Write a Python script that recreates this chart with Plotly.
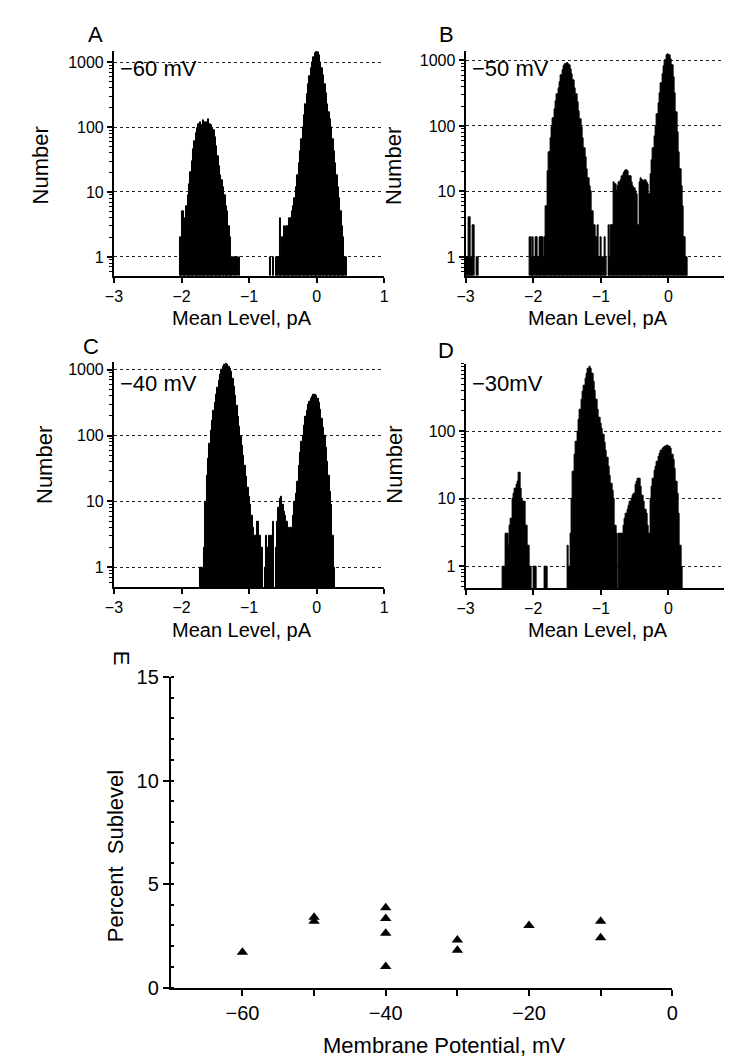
import plotly.graph_objects as go

# ---------------- data ----------------
BIN = 0.02  # histogram bin width, pA

# Panel A  (-60 mV)
A_left_start = -2.02
A_left_counts = [2, 1, 5, 3, 4, 6, 9, 13, 20, 30, 45, 60, 80, 95, 110, 118, 105, 125,
                 115, 120, 110, 130, 110, 105, 95, 90, 70, 50, 35, 25, 18, 15, 12, 9,
                 6, 5, 3, 2, 1, 1, 0, 1, 1, 0, 1]
A_right_start = -0.68
A_right_counts = [1, 0, 1, 0, 1, 1, 1, 4, 1, 2, 3, 2, 3, 3, 4, 4, 5, 6, 8, 12, 18, 28,
                  42, 65, 100, 150, 220, 320, 450, 600, 800, 1000, 1200, 1350, 1450,
                  1400, 1250, 1000, 800, 620, 450, 330, 220, 170, 130, 100, 65, 42, 28,
                  18, 12, 8, 5, 3, 2, 1, 1]

# Panel B  (-50 mV)
B_far_start = -2.98
B_far_counts = [1, 1, 4, 1, 1, 3, 0, 0, 1]
B_main_start = -2.04
B_main_counts = [2, 1, 2, 1, 2, 2, 1, 2, 2, 2, 1, 2,
                 6, 20, 40, 65, 95, 130, 180, 240, 300, 380, 470, 600, 720, 820, 880,
                 920, 900, 840, 740, 620, 500, 380, 300, 230, 170, 125, 95, 65, 45, 33,
                 22, 16, 12, 10, 5, 3, 3, 2, 3, 1, 2, 1, 1, 2, 1, 0, 3, 1, 3, 3,
                 14, 13, 10, 12, 14, 15, 17, 19, 20, 21, 20, 17, 17, 14, 12, 11, 10, 9,
                 3, 14, 16, 15, 14, 15, 14, 13, 9,
                 18, 30, 45, 70, 100, 150, 220, 320, 450, 620, 820, 1000, 1180, 1250,
                 1200, 1050, 850, 560, 320, 160, 80, 40, 22, 12, 6, 2, 1, 1]

# Panel C  (-40 mV)
C_start = -1.72
C_counts = [1, 1, 0, 2, 10, 25, 45, 75, 120, 170, 240, 320, 420, 540, 680, 830, 980,
            1100, 1200, 1250, 1200, 1120, 1050, 920, 740, 550, 400, 280, 190, 135, 95,
            70, 50, 35, 24, 16, 12, 9, 6, 4, 3, 3, 5, 5, 3, 2, 2, 0, 1, 3, 2, 3, 2,
            3, 5, 0, 2, 5, 8, 11, 12, 9, 7, 6, 5, 4, 3, 4, 3, 6, 10, 13, 20, 35, 55,
            80, 100, 140, 190, 240, 290, 330, 360, 390, 410, 420, 400, 360, 310, 250,
            180, 130, 100, 65, 40, 25, 14, 9, 3, 1]

# Panel D  (-30 mV)
D_left_start = -2.44
D_left_counts = [1, 1, 3, 3, 2, 4, 5, 10, 12, 14, 16, 18, 24, 14, 10, 9, 9, 4, 2, 2,
                 1, 0, 0, 1, 1]
D_spike_start = -1.82
D_spike_counts = [1, 1]
D_main_start = -1.48
D_main_counts = [2, 1, 3, 10, 25, 45, 70, 100, 150, 210, 290, 380, 480, 600, 720, 850,
                 900, 850, 720, 550, 400, 290, 210, 160, 130, 110, 90, 68, 52, 40, 30,
                 22, 17, 13, 10, 4, 3, 0, 3, 3, 3, 4, 5, 6, 7, 8, 9, 10, 11, 12, 16,
                 18, 20, 20, 15, 11, 9, 7, 6, 4, 3, 10, 15, 20, 26, 30, 36, 42, 47, 52,
                 55, 58, 60, 62, 62, 60, 55, 45, 38, 28, 18, 12, 6, 2, 1]

# Panel E
E_potential = [-60, -50, -50, -40, -40, -40, -40, -30, -30, -20, -10, -10]
E_percent = [1.7, 3.4, 3.2, 3.85, 3.33, 2.62, 1.02, 2.3, 1.8, 3.0, 3.2, 2.4]

hist_ticks = [-3, -2, -1, 0, 1]
log_ticks = [1, 10, 100, 1000]
E_xticks = [-60, -50, -40, -30, -20, -10, 0]
E_xlabels = ["\u221260", "", "\u221240", "", "\u221220", "", "0"]
E_yticks = [0, 5, 10, 15]

# ---------------- figure ----------------
W, H = 732, 1063
FONT = "Liberation Sans, Arial, Helvetica, sans-serif"


def px(x):
    return x / W


def py(y):
    return 1 - y / H


def to_xy(segments):
    xs, ys = [], []
    for start, counts in segments:
        for i, c in enumerate(counts):
            if c > 0:
                xs.append(round(start + i * BIN, 3))
                ys.append(c)
    return xs, ys


panels = [
    ("x", "y", [(A_left_start, A_left_counts), (A_right_start, A_right_counts)]),
    ("x2", "y2", [(B_far_start, B_far_counts), (B_main_start, B_main_counts)]),
    ("x3", "y3", [(C_start, C_counts)]),
    ("x4", "y4", [(D_left_start, D_left_counts), (D_spike_start, D_spike_counts),
                  (D_main_start, D_main_counts)]),
]

fig = go.Figure()
for xa, ya, segs in panels:
    xs, ys = to_xy(segs)
    fig.add_trace(go.Bar(x=xs, y=ys, width=BIN, xaxis=xa, yaxis=ya,
                         marker=dict(color="black", line=dict(color="black", width=1.0)),
                         showlegend=False, hoverinfo="x+y"))

fig.add_trace(go.Scatter(x=E_potential, y=E_percent, mode="markers", xaxis="x5", yaxis="y5",
                         marker=dict(symbol="triangle-up", size=10, color="black"),
                         showlegend=False))


def hist_x(domain, rng, ticks):
    return dict(domain=domain, range=rng, tickmode="array", tickvals=ticks,
                ticks="outside", ticklen=5, tickwidth=1.5, tickcolor="black",
                showline=True, linewidth=2, linecolor="black", showgrid=False,
                zeroline=False, tickfont=dict(size=16, color="black", family=FONT))


def hist_y(domain, rng, ticks, anchor):
    return dict(domain=domain, type="log", range=rng, tickmode="array", tickvals=ticks,
                ticktext=[str(t) for t in ticks], ticks="outside", ticklen=5,
                tickwidth=1.5, tickcolor="black", showline=True, linewidth=2,
                linecolor="black", showgrid=True, gridcolor="#222", griddash="dot",
                gridwidth=1, zeroline=False, anchor=anchor,
                minor=dict(dtick="D1", ticks="outside", ticklen=3, tickwidth=1,
                           tickcolor="black", showgrid=False),
                tickfont=dict(size=16, color="black", family=FONT))


left_dom = [px(99), px(375)]
right_dom = [px(458), 1.0]
top_dom = [py(262), py(33)]
mid_dom_c = [py(580), py(350)]
mid_dom_d = [py(581), py(352)]

layout = dict(
    width=W, height=H, margin=dict(l=0, r=0, t=0, b=0),
    paper_bgcolor="white", plot_bgcolor="white", showlegend=False,
    font=dict(family=FONT, color="black"),
    bargap=0,
    xaxis=dict(hist_x(left_dom, [-3, 1], hist_ticks), anchor="y"),
    yaxis=hist_y(top_dom, [-0.287, 3.166], log_ticks, "x"),
    xaxis2=dict(hist_x(right_dom, [-3, 0.97], hist_ticks[:4]), anchor="y2"),
    yaxis2=hist_y(top_dom, [-0.285, 3.14], log_ticks, "x2"),
    xaxis3=dict(hist_x(left_dom, [-3, 1], hist_ticks), anchor="y3"),
    yaxis3=hist_y(mid_dom_c, [-0.297, 3.12], log_ticks, "x3"),
    xaxis4=dict(hist_x(right_dom, [-3, 0.97], hist_ticks[:4]), anchor="y4"),
    yaxis4=hist_y(mid_dom_d, [-0.319, 3.0], log_ticks[:3], "x4"),
    xaxis5=dict(domain=[px(157), px(669)], range=[-70, 0], anchor="y5", tickmode="array",
                tickvals=E_xticks, ticktext=E_xlabels, ticks="outside", ticklen=6,
                tickwidth=1.5, tickcolor="black", showline=True, linewidth=2,
                linecolor="black", showgrid=False, zeroline=False,
                tickfont=dict(size=20, color="black", family=FONT)),
    yaxis5=dict(domain=[py(989), py(672)], range=[0, 15], anchor="x5", tickmode="array",
                tickvals=E_yticks, ticktext=[str(t) for t in E_yticks], ticks="outside",
                ticklen=6, tickwidth=1.5, tickcolor="black", showline=True, linewidth=2,
                linecolor="black", showgrid=False, zeroline=False,
                minor=dict(dtick=1, ticks="inside", ticklen=3, tickcolor="black"),
                tickfont=dict(size=20, color="black", family=FONT)),
)
fig.update_layout(**layout)


def ann(text, x, y, size=22, angle=0, xanchor="center"):
    fig.add_annotation(text=text, x=px(x), y=py(y), xref="paper", yref="paper",
                       showarrow=False, textangle=angle, xanchor=xanchor, yanchor="middle",
                       font=dict(size=size, color="black", family=FONT))


# panel letters
ann("A", 80, 16)
ann("B", 438, 16)
ann("C", 76, 334)
ann("D", 438, 338)
ann("E", 107, 653, angle=90)
# voltages
ann("\u221260 mV", 103, 51, xanchor="left")
ann("\u221250 mV", 462, 51, xanchor="left")
ann("\u221240 mV", 103, 372, xanchor="left")
ann("\u221230mV", 462, 372, xanchor="left")
# axis titles
for x, y in [(24, 150), (385, 150), (28, 455), (385, 455)]:
    ann("Number", x, y, size=22, angle=-90)
for x, y in [(230, 305), (593, 305), (230, 624), (593, 624)]:
    ann("Mean Level, pA", x, y, size=20)
ann("Percent  Sublevel", 100, 855, size=22, angle=-90)
ann("Membrane Potential, mV", 436, 1048, size=22)

fig.write_html("out.html")
